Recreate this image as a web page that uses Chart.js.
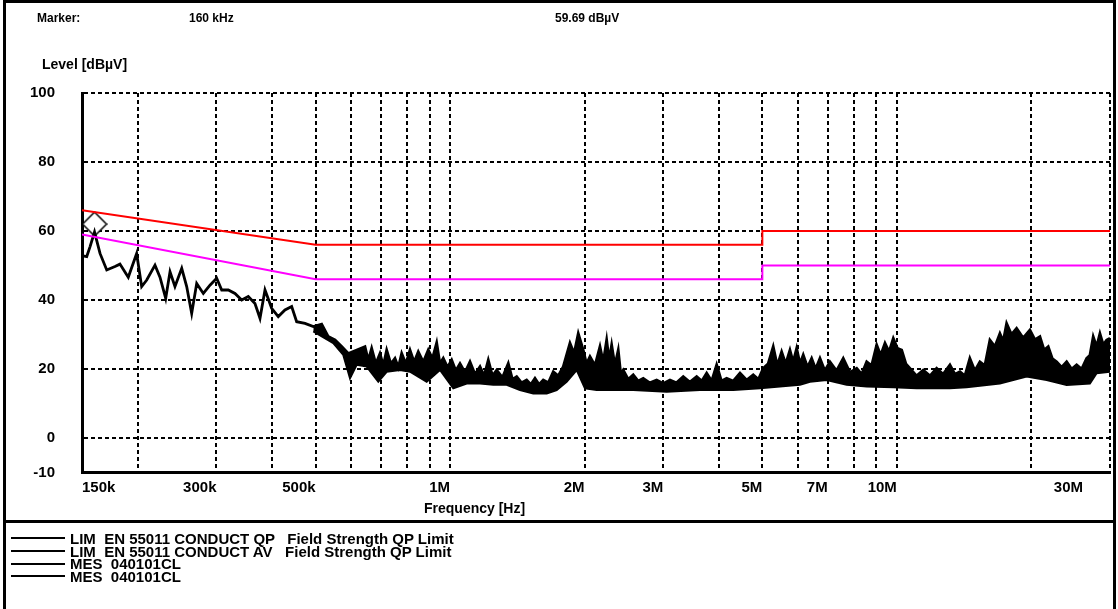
<!DOCTYPE html>
<html>
<head>
<meta charset="utf-8">
<title>EN 55011 conducted emission</title>
<script src="https://cdn.jsdelivr.net/npm/chart.js@4.4.1/dist/chart.umd.min.js"></script>
<style>
  html, body { margin: 0; padding: 0; background: #fff; }
  body { width: 1118px; height: 609px; position: relative; overflow: hidden;
         font: bold 14px "Liberation Sans", Arial, sans-serif; color: #000; }
  #chart { position: absolute; left: 0; top: 0; }
  .frame { position: absolute; left: 3px; top: 0; width: 1113px; height: 640px;
           box-sizing: border-box; border: 3px solid #000; }
  .sep { position: absolute; left: 3px; top: 520px; width: 1113px; height: 3px; background: #000; }
  .txt { position: absolute; white-space: pre; line-height: 14px; }
  .small { font-size: 12px; }
  #legend { position: absolute; left: 11px; top: 532px; font-size: 15px; }
  #legend .row { height: 12.7px; display: flex; align-items: center; white-space: pre; }
  #legend .swatch { display: inline-block; width: 54px; height: 2px; background: #000; margin-right: 5px; }
</style>
</head>
<body>
<canvas id="chart" width="1118" height="609"></canvas>
<div class="frame"></div>
<div class="sep"></div>
<div class="txt small" style="left:37px; top:11px;">Marker:</div>
<div class="txt small" style="left:189px; top:11px;">160 kHz</div>
<div class="txt small" style="left:555px; top:11px;">59.69 dBµV</div>
<div class="txt" style="left:42px; top:57px;">Level [dBµV]</div>
<div id="legend"></div>
<script>
// limit lines (frequency in MHz, level in dBµV)
const qpFreq = [0.15, 0.5, 5, 5, 30];
const qpLevel = [66, 56, 56, 60, 60];
const avFreq = [0.15, 0.5, 5, 5, 30];
const avLevel = [59, 46, 46, 50, 50];

// measured trace, upper edge
const measFreq = [
  0.1508, 0.1537, 0.1563, 0.160, 0.1646, 0.1704, 0.1778, 0.1824, 0.1904, 0.1988,
  0.2040, 0.2094, 0.2185, 0.2242, 0.2309, 0.2361, 0.2422, 0.2508, 0.2573, 0.2640,
  0.2709, 0.2803, 0.2901, 0.3003, 0.3082, 0.3188, 0.3300, 0.3416, 0.3534, 0.3658,
  0.3754, 0.3852, 0.3987, 0.4125, 0.4270, 0.4420, 0.4535, 0.4734, 0.4941, 0.5159,
  0.5338, 0.5526, 0.5720, 0.5918, 0.6449, 0.656, 0.6675, 0.682, 0.6967, 0.709,
  0.7212, 0.737, 0.7527, 0.766, 0.7792, 0.796, 0.8133, 0.831, 0.8488, 0.871,
  0.8937, 0.913, 0.9332, 0.949, 0.9655, 0.987, 1.0082, 1.030, 1.0524, 1.080,
  1.1080, 1.137, 1.1666, 1.192, 1.2176, 1.244, 1.2715, 1.310, 1.3497, 1.379,
  1.4095, 1.446, 1.4838, 1.516, 1.5488, 1.582, 1.6164, 1.659, 1.7019, 1.746,
  1.7919, 1.8549, 1.895, 1.9360, 1.9864, 2.020, 2.0562, 2.110, 2.1650, 2.202,
  2.2410, 2.270, 2.2995, 2.338, 2.3790, 2.410, 2.4411, 2.505, 2.5702, 2.638,
  2.7063, 2.800, 2.8994, 3.000, 3.1059, 3.210, 3.3255, 3.440, 3.5639, 3.660,
  3.7523, 3.850, 3.9507, 4.050, 4.1595, 4.300, 4.4556, 4.610, 4.7700, 4.900,
  5.0223, 5.150, 5.2880, 5.400, 5.5221, 5.640, 5.7638, 5.860, 5.9664, 6.070,
  6.1728, 6.310, 6.4461, 6.580, 6.7281, 6.900, 7.0836, 7.330, 7.5863, 7.850,
  8.1306, 8.340, 8.5605, 8.780, 9.0129, 9.200, 9.4070, 9.610, 9.8186, 10.03,
  10.253, 10.48, 10.702, 11.07, 11.457, 11.86, 12.276, 12.70, 13.147, 13.49,
  13.842, 14.20, 14.568, 14.95, 15.343, 15.74, 16.155, 16.58, 17.009, 17.30,
  17.607, 18.06, 18.538, 19.18, 19.854, 20.37, 20.905, 21.36, 21.819, 22.29,
  22.785, 23.38, 23.993, 24.62, 25.259, 25.92, 26.595, 27.05, 27.515, 28.00,
  28.481, 28.98, 29.481, 30
];
const measPeak = [
  52.8, 52.6, 55.4, 59.7, 53.5, 48.7, 49.7, 50.4, 46.6, 53.5,
  43.9, 45.8, 50.1, 46.6, 40.5, 48.2, 43.9, 49.2, 43.9, 36.1,
  44.8, 41.9, 44.3, 46.3, 42.9, 42.9, 41.9, 40.0, 41.0, 39.0,
  34.7, 42.9, 37.6, 35.2, 37.1, 38.1, 33.7, 33.2, 32.3, 33.0,
  29.4, 28.4, 26.5, 24.5, 26.5, 22.5, 26.0, 21.5, 24.5, 21.0,
  25.5, 21.5, 23.1, 20.5, 24.5, 21.5, 25.5, 22.0, 25.0, 22.0,
  25.5, 23.0, 27.6, 21.5, 23.1, 20.5, 22.6, 19.5, 21.6, 19.0,
  22.1, 18.5, 20.7, 18.0, 22.6, 18.0, 19.7, 17.5, 21.6, 17.0,
  17.8, 16.0, 16.8, 15.5, 17.3, 15.5, 16.8, 16.0, 19.2, 18.0,
  20.7, 27.5, 24.5, 30.3, 25.5, 21.5, 23.6, 21.0, 26.5, 22.0,
  28.4, 22.5, 27.0, 21.0, 25.5, 18.5, 19.7, 17.0, 18.3, 16.5,
  17.3, 16.0, 16.8, 15.8, 16.8, 16.0, 17.8, 16.2, 17.8, 16.5,
  18.8, 16.5, 21.2, 16.5, 17.3, 16.5, 18.8, 16.8, 18.3, 17.0,
  20.2, 21.5, 26.5, 21.0, 25.0, 21.5, 25.5, 22.0, 26.0, 21.5,
  24.1, 20.5, 23.1, 20.0, 23.1, 19.5, 22.1, 19.5, 23.1, 19.0,
  20.2, 18.5, 22.1, 21.0, 27.0, 24.0, 27.5, 25.0, 28.9, 26.0,
  25.5, 21.5, 20.2, 18.0, 19.7, 18.0, 20.2, 18.5, 21.2, 18.5,
  19.2, 18.0, 23.1, 19.5, 22.1, 21.0, 28.4, 26.5, 30.3, 28.0,
  33.2, 30.0, 31.8, 29.0, 31.3, 28.5, 29.4, 25.5, 26.5, 23.0,
  22.1, 20.5, 22.1, 20.0, 21.2, 20.0, 23.1, 24.0, 29.4, 26.5,
  30.3, 27.0, 28.4, 28.9
];

// measured trace, lower edge of the noise band
const lowFreq = [
  0.4941, 0.5477, 0.5767, 0.5970, 0.6179, 0.6506, 0.6907, 0.7212, 0.7724, 0.8133,
  0.8863, 0.9492, 1.0166, 1.0893, 1.1666, 1.2494, 1.3386, 1.4336, 1.5353, 1.6454,
  1.7321, 1.8236, 1.9202, 2.0040, 2.1285, 2.2794, 2.5702, 3.0532, 3.6249, 4.3047,
  4.9378, 5.4752, 6.0687, 6.3899, 6.9641, 7.7197, 8.5605, 9.8186, 11.078, 13.147,
  14.325, 17.009, 19.520, 21.640, 23.993, 27.049, 27.999, 30
];
const lowLevel = [
  30.9, 27.5, 24.1, 17.3, 21.2, 20.7, 16.3, 19.2, 19.7, 19.2,
  16.3, 19.7, 14.4, 15.8, 15.8, 15.4, 15.4, 13.9, 12.9, 12.9,
  13.9, 16.3, 19.7, 14.4, 13.9, 13.9, 13.9, 13.4, 13.9, 13.9,
  14.4, 14.9, 15.4, 16.3, 16.8, 15.4, 14.9, 14.7, 14.4, 14.4,
  14.7, 15.8, 17.8, 16.8, 15.4, 15.8, 18.8, 19.2
];

const markerFreq = [0.16];
const markerLevel = [59.69];

const xTickValues = [0.15, 0.2, 0.3, 0.4, 0.5, 0.6, 0.7, 0.8, 0.9, 1, 2, 3, 4, 5, 6, 7, 8, 9, 10, 20, 30];
const xTickLabels = ['150k', '', '300k', '', '500k', '', '', '', '', '1M', '2M', '3M', '', '5M', '', '7M', '', '', '10M', '', '30M'];
const yTickValues = [-10, 0, 20, 40, 60, 80, 100];

const FONT = '"Liberation Sans", Arial, sans-serif';

function toPoints(xs, ys) {
    return xs.map((x, i) => ({ x: x, y: ys[i] }));
}

// diamond marker, drawn above the marked point
const diamond = document.createElement('canvas');
diamond.width = 26;
diamond.height = 42;
const dctx = diamond.getContext('2d');
dctx.beginPath();
dctx.moveTo(13, 1);
dctx.lineTo(25, 13);
dctx.lineTo(13, 25);
dctx.lineTo(1, 13);
dctx.closePath();
dctx.fillStyle = '#fff';
dctx.fill();
dctx.lineWidth = 1.5;
dctx.strokeStyle = '#000';
dctx.stroke();

// frequency labels sit left of their grid line, as in the original plot
const freqLabels = {
    id: 'freqLabels',
    afterDraw(chart) {
        const { ctx, chartArea, scales: { x } } = chart;
        ctx.save();
        ctx.fillStyle = '#000';
        ctx.textBaseline = 'middle';
        ctx.font = 'bold 15px ' + FONT;
        xTickValues.forEach((v, i) => {
            const text = xTickLabels[i];
            if (!text) return;
            let px = x.getPixelForValue(v);
            ctx.textAlign = i === 0 ? 'left' : 'right';
            if (px > chartArea.right - 10) px -= 27;
            ctx.fillText(text, px, chartArea.bottom + 15);
        });
        ctx.font = 'bold 14px ' + FONT;
        ctx.textAlign = 'left';
        ctx.fillText('Frequency [Hz]', 424, chartArea.bottom + 37);
        ctx.restore();
    }
};

const chart = new Chart(document.getElementById('chart'), {
    type: 'line',
    data: {
        datasets: [
            {
                label: 'LIM  EN 55011 CONDUCT QP   Field Strength QP Limit',
                data: toPoints(qpFreq, qpLevel),
                borderColor: '#ff0000',
                borderWidth: 2,
                pointRadius: 0
            },
            {
                label: 'LIM  EN 55011 CONDUCT AV   Field Strength QP Limit',
                data: toPoints(avFreq, avLevel),
                borderColor: '#ff00ff',
                borderWidth: 2,
                pointRadius: 0
            },
            {
                label: 'MES  040101CL',
                data: toPoints(measFreq, measPeak),
                borderColor: '#000',
                borderWidth: 2.8,
                pointRadius: 0
            },
            {
                label: 'MES  040101CL',
                data: toPoints(lowFreq, lowLevel),
                borderColor: '#000',
                backgroundColor: '#000',
                borderWidth: 2,
                pointRadius: 0,
                fill: '-1'
            },
            {
                data: toPoints(markerFreq, markerLevel),
                showLine: false,
                pointStyle: diamond,
                pointRadius: 12
            }
        ]
    },
    options: {
        responsive: false,
        animation: false,
        layout: { autoPadding: false, padding: { top: 93, right: 8 } },
        plugins: {
            legend: { display: false },
            tooltip: { enabled: false }
        },
        scales: {
            x: {
                type: 'logarithmic',
                min: 0.15,
                max: 30,
                afterBuildTicks: s => { s.ticks = xTickValues.map(v => ({ value: v })); },
                afterFit: s => { s.height = 136.5; },
                ticks: { display: false },
                grid: { color: '#000', lineWidth: 2, drawTicks: false },
                border: { color: '#000', width: 3, dash: [4, 3] }
            },
            y: {
                min: -10,
                max: 100,
                afterBuildTicks: s => { s.ticks = yTickValues.map(v => ({ value: v })); },
                afterFit: s => { s.width = 82; },
                ticks: { color: '#000', padding: 27, font: { family: FONT, size: 15, weight: 'bold' } },
                grid: { color: '#000', lineWidth: 2, drawTicks: false },
                border: { color: '#000', width: 3, dash: [4, 3] }
            }
        }
    },
    plugins: [freqLabels]
});

// legend rows: black sample line and dataset name
const legendBox = document.getElementById('legend');
chart.data.datasets.filter(ds => ds.label).forEach(ds => {
    const row = document.createElement('div');
    row.className = 'row';
    const swatch = document.createElement('span');
    swatch.className = 'swatch';
    row.appendChild(swatch);
    row.appendChild(document.createTextNode(ds.label));
    legendBox.appendChild(row);
});
</script>
</body>
</html>
